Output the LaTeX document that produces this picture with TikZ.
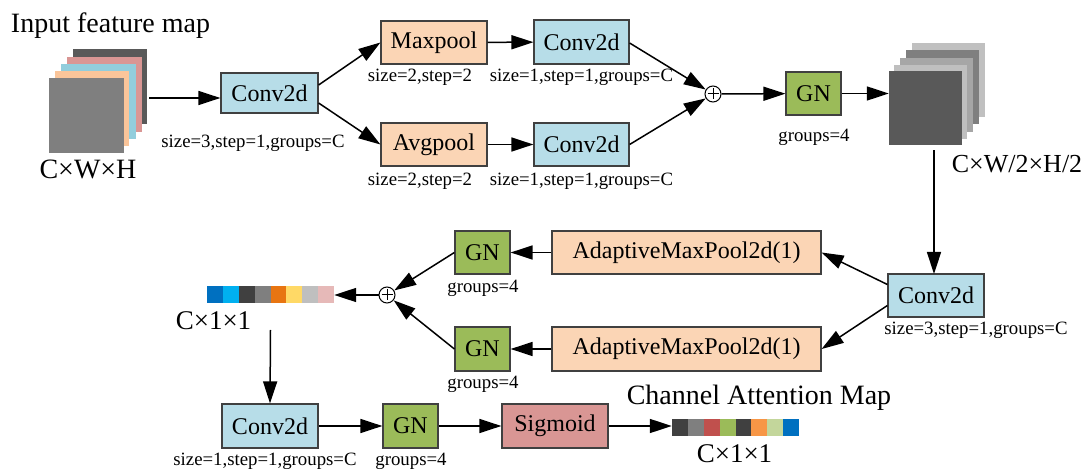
\documentclass[tikz,border=0pt]{standalone}
\usepackage{fontspec}
\setmainfont{Liberation Serif}
\usetikzlibrary{arrows.meta}
% block colours
\definecolor{convblue}{HTML}{B7DDE8}
\definecolor{poolpeach}{HTML}{FBD5B5}
\definecolor{gngreen}{HTML}{9BBB59}
\definecolor{sigred}{HTML}{D99694}
\definecolor{edgegray}{HTML}{404040}
% feature map layers
\definecolor{laydark}{HTML}{595959}
\definecolor{laypink}{HTML}{D99694}
\definecolor{laycyan}{HTML}{92CDDC}
\definecolor{laypeach}{HTML}{FAC59A}
\definecolor{laymid}{HTML}{7F7F7F}
\definecolor{laylight}{HTML}{C0C0C0}
\definecolor{laysilver}{HTML}{A6A6A6}
% channel vector cells
\definecolor{cva}{HTML}{0070C0}
\definecolor{cvb}{HTML}{00B0F0}
\definecolor{cvc}{HTML}{404040}
\definecolor{cvd}{HTML}{7F7F7F}
\definecolor{cve}{HTML}{E87511}
\definecolor{cvf}{HTML}{FFD966}
\definecolor{cvg}{HTML}{BFBFBF}
\definecolor{cvh}{HTML}{E6B9B8}
\definecolor{cwc}{HTML}{C0504D}
\definecolor{cwd}{HTML}{9BBB59}
\definecolor{cwf}{HTML}{F79646}
\definecolor{cwg}{HTML}{C3D69B}
\begin{document}
\begin{tikzpicture}[x=1pt,y=-1pt,
  box/.style={draw=edgegray, line width=1.2pt, inner sep=0pt,
    font={\fontsize{24}{28}\selectfont}},
  conv/.style={box, fill=convblue, minimum width=96pt, minimum height=43pt},
  pool/.style={box, fill=poolpeach, minimum width=106pt, minimum height=43pt},
  apool/.style={box, fill=poolpeach, minimum width=269pt, minimum height=43pt},
  gn/.style={box, fill=gngreen, minimum width=55pt, minimum height=43pt},
  sig/.style={box, fill=sigred, minimum width=106pt, minimum height=44pt},
  sum/.style={circle, draw=black, line width=1pt, fill=white, minimum size=16pt, inner sep=0pt},
  arr/.style={-{Triangle[length=22pt,width=14pt]}, line width=1.5pt},
  lbl/.style={anchor=base, inner sep=0pt, font={\fontsize{18.8}{22}\selectfont}},
  big/.style={anchor=base, inner sep=0pt, font={\fontsize{28}{32}\selectfont}},
  dim/.style={anchor=base, inner sep=0pt, font={\fontsize{27}{31}\selectfont}},
  ghost/.style={draw=none, inner sep=0pt},
]
\useasboundingbox (0,0) rectangle (1088,470);

% ---- input feature map stack ----
\fill[laydark]  (73,49) rectangle (147,124);
\fill[laypink]  (67,57) rectangle (142,132);
\fill[laycyan]  (61,64) rectangle (136,139);
\fill[laypeach] (55,71) rectangle (129,146);
\node[ghost, fill=laymid, minimum width=75pt, minimum height=75pt] (s1) at (86.5,115.5) {};
\node[ghost, minimum width=100pt, minimum height=104pt] (inmap) at (99,101) {};
\node[big] (tin) at (110.5,33) {Input feature map};
\node[big] (din) at (88,179) {C×W×H};

% ---- first stage ----
\node[conv, minimum width=97pt, minimum height=40pt] (c1) at (269.5,93) {Conv2d};
\node[lbl] at (253,148) {size=3,step=1,groups=C};

\node[pool] (mp) at (434,42.5) {Maxpool};
\node[lbl] at (420,82) {size=2,step=2};
\node[conv, minimum width=95pt, minimum height=44pt] (ct) at (581.5,42) {Conv2d};
\node[lbl] at (581.5,82) {size=1,step=1,groups=C};

\node[pool] (ap) at (434,144.5) {Avgpool};
\node[lbl] at (420,186) {size=2,step=2};
\node[conv, minimum width=95pt] (cb) at (581.5,144.5) {Conv2d};
\node[lbl] at (581.5,186) {size=1,step=1,groups=C};

\node[sum] (p1) at (713,94) {};
\draw[line width=1pt] ([yshift=-3pt]p1.north) -- ([yshift=3pt]p1.south)
  ([xshift=3pt]p1.west) -- ([xshift=-3pt]p1.east);

\node[gn] (g1) at (813.5,93.5) {GN};
\node[lbl] at (814,142) {groups=4};

% ---- reduced feature map stack ----
\fill[laylight]  (912,43) rectangle (985,117);
\fill[laymid]    (906,50) rectangle (979,124);
\fill[laysilver] (900,58) rectangle (973,132);
\fill[cvg]       (894,65) rectangle (967,139);
\node[ghost, fill=laydark, minimum width=73pt, minimum height=74pt] (s2) at (925.5,108) {};
\node[anchor=base, inner sep=0pt, font={\fontsize{26}{30}\selectfont}] at (1017,173) {C×W/2×H/2};

\draw[arr] (inmap.east |- 0,98) -- (c1.west |- 0,98);
\draw[arr] ([yshift=8pt]c1.east) -- (mp.west);
\draw[arr] ([yshift=-10pt]c1.east) -- (ap.west);
\draw[arr] (mp) -- (ct);
\draw[arr] (ap) -- (cb);
\draw[arr] ([yshift=-1pt]ct.east) -- (p1);
\draw[arr] (cb.east) -- (p1);
\draw[arr] (p1) -- (g1);
\draw[arr] (g1.east) -- (s2.west |- g1.east);

% ---- second stage ----
\node[conv] (c2) at (936,295.5) {Conv2d};
\node[lbl] at (976,335) {size=3,step=1,groups=C};
\node[apool] (am1) at (686.5,252.5) {AdaptiveMaxPool2d(1)};
\node[apool, minimum height=44pt] (am2) at (686.5,349) {AdaptiveMaxPool2d(1)};
\node[gn] (g2) at (482.5,252.5) {GN};
\node[lbl] at (483,292.7) {groups=4};
\node[gn, minimum height=44pt] (g3) at (482.5,349) {GN};
\node[lbl] at (483,389) {groups=4};

\node[sum] (p2) at (387,295) {};
\draw[line width=1pt] ([yshift=-3pt]p2.north) -- ([yshift=3pt]p2.south)
  ([xshift=3pt]p2.west) -- ([xshift=-3pt]p2.east);

% pooled channel vector
\foreach \c [count=\i from 0] in {cva,cvb,cvc,cvd,cve,cvf,cvg,cvh}
  \fill[\c] ({207+\i*15.875},286) rectangle ({207+(\i+1)*15.875},303);
\node[ghost, minimum width=127pt, minimum height=17pt] (v1) at (270.5,294.5) {};
\node[dim] at (213.5,330) {C×1×1};

\draw[arr] (s2.south -| 934,0) ++(0,5) -- (934,274);
\draw[arr] ([yshift=11pt]c2.west) -- (am1.east);
\draw[arr] ([yshift=-10pt]c2.west) -- (am2.east);
\draw[arr] (am1) -- (g2);
\draw[arr] (am2) -- (g3);
\draw[arr] (g2.west) -- (p2);
\draw[arr] (g3.west) -- (p2);
\draw[arr] (p2) -- (v1.east |- p2.west);

% ---- third stage ----
\node[conv, minimum height=44pt] (c3) at (270,426) {Conv2d};
\node[lbl] at (265,465) {size=1,step=1,groups=C};
\node[gn, minimum height=44pt] (g4) at (410.5,426) {GN};
\node[lbl] at (411,465) {groups=4};
\node[sig] (sg) at (555,426) {Sigmoid};

% attention vector
\foreach \c [count=\i from 0] in {cvc,cvd,cwc,cwd,cvc,cwf,cwg,cva}
  \fill[\c] ({672+\i*15.875},419) rectangle ({672+(\i+1)*15.875},436);
\node[ghost, minimum width=127pt, minimum height=17pt] (v2) at (735.5,427.5) {};
\node[big] at (759,405) {Channel Attention Map};
\node[dim] at (734.5,463) {C×1×1};

\draw[arr] (v1.south |- 0,330) -- (c3.north);
\draw[arr] (c3) -- (g4);
\draw[arr] (g4) -- (sg);
\draw[arr] (sg.east) -- (v2.west |- sg.east);
\end{tikzpicture}
\end{document}
